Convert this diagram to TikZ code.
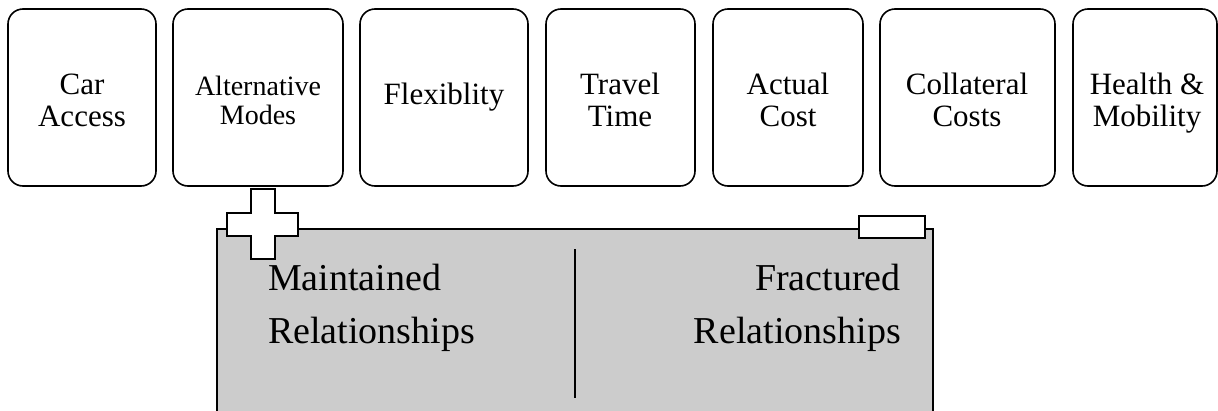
\documentclass[tikz,border=0pt]{standalone}
\usepackage{fontspec}
\setmainfont{Liberation Serif}
\begin{document}
\begin{tikzpicture}[x=1pt,y=-1pt,
  factor/.style={draw=black,line width=1.6pt,rounded corners=15pt,fill=white},
  ftxt/.style={align=center,font=\fontsize{31}{32}\selectfont},
  btxt/.style={font=\fontsize{38}{53}\selectfont,inner sep=0pt}]
\useasboundingbox (0,0) rectangle (1218,410);
\clip (0,0) rectangle (1218,410);
% top boxes
\draw[factor] (8,9) rectangle (156,186);
\draw[factor] (173,9) rectangle (343,186);
\draw[factor] (360,9) rectangle (528,186);
\draw[factor] (546,9) rectangle (695,186);
\draw[factor] (713,9) rectangle (863,186);
\draw[factor] (880,9) rectangle (1055,186);
\draw[factor] (1073,9) rectangle (1217,186);
\node[ftxt] (car) at (82,100) {Car\\Access};
\node[ftxt,font=\fontsize{28}{29}\selectfont] (alt) at (258,100) {Alternative\\Modes};
\node[ftxt] (flex) at (444,97) {Flexiblity};
\node[ftxt] (tt) at (620,100) {Travel\\Time};
\node[ftxt] (ac) at (788,100) {Actual\\Cost};
\node[ftxt] (cc) at (967,100) {Collateral\\Costs};
\node[ftxt] (hm) at (1147,103) {Health \&\\Mobility};
% gray panel
\draw[line width=1.4pt,fill=black!20] (217,420) -- (217,229) -- (933,229) -- (933,420);
\draw[line width=1.4pt] (575,249) -- (575,398);
% plus
\draw[line width=1.4pt,fill=white] (251,189) -- (275,189) -- (275,213) -- (298,213) -- (298,236) -- (275,236) -- (275,259) -- (251,259) -- (251,236) -- (227,236) -- (227,213) -- (251,213) -- cycle;
% minus
\draw[line width=1.4pt,fill=white] (859,216) rectangle (925,238);
% texts
\node[btxt,anchor=base west] (m1) at (268,290) {Maintained};
\node[btxt,anchor=base west] (m2) at (268,343) {Relationships};
\node[btxt,anchor=base east] (f1) at (901,290) {Fractured};
\node[btxt,anchor=base east] (f2) at (901,343) {Relationships};
\end{tikzpicture}
\end{document}
